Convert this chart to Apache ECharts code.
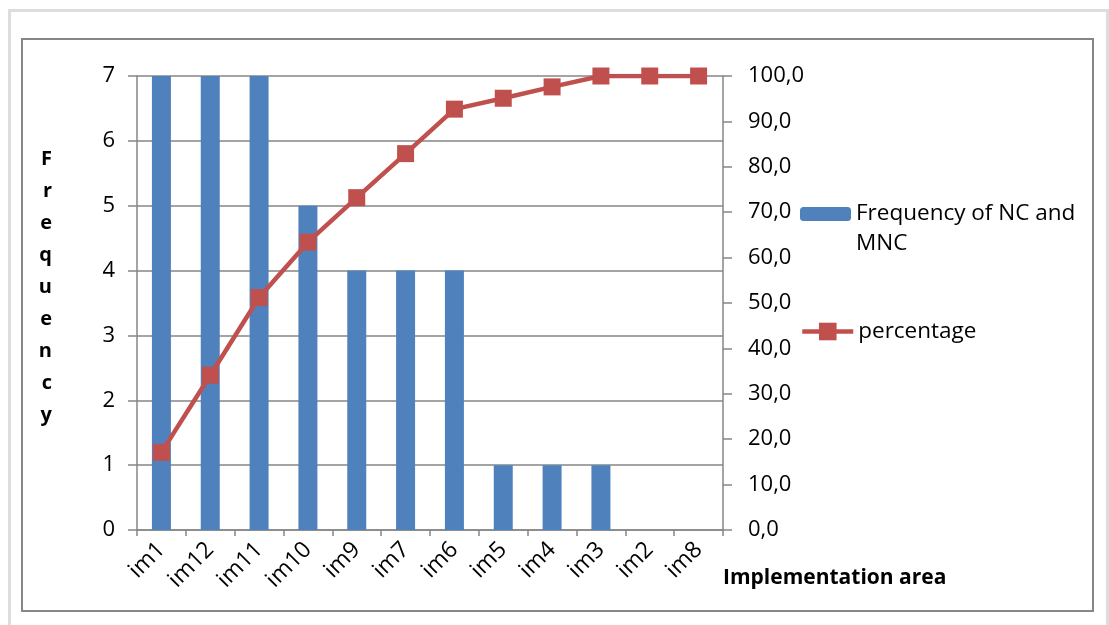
<!DOCTYPE html>
<html>
<head>
<meta charset="utf-8">
<script src="https://cdn.jsdelivr.net/npm/echarts@6/dist/echarts.min.js"></script>
<style>
html,body{margin:0;padding:0;background:#fff;}
#main{width:1109px;height:625px;}
</style>
</head>
<body>
<div id="main"></div>
<script>
const categories = ['im1','im12','im11','im10','im9','im7','im6','im5','im4','im3','im2','im8'];
const frequency = [7,7,7,5,4,4,4,1,1,1,0,0];
const percentage = [17.1,34.1,51.2,63.4,73.2,82.9,92.7,95.1,97.6,100,100,100];
const barName = 'Frequency of NC and MNC';
const lineName = 'percentage';
const yAxisTitle = 'Frequency';
const xAxisTitle = 'Implementation area';

const FONT = '"Open Sans", sans-serif';
const AXIS_COLOR = '#868686';

const chart = echarts.init(document.getElementById('main'), null, {renderer:'canvas'});
chart.setOption({
  animation: false,
  backgroundColor: '#ffffff',
  textStyle: {fontFamily: FONT},
  graphic: [
    {type:'rect', shape:{x:9.5,y:10.5,width:1098,height:630}, style:{fill:'none', stroke:'#dddddd', lineWidth:3}, silent:true},
    {type:'rect', shape:{x:22,y:39,width:1071,height:572}, style:{fill:'none', stroke:AXIS_COLOR, lineWidth:2}, silent:true}
  ],
  grid: {left:137, right:386, top:76, bottom:95, containLabel:false},
  legend: [
    {
      data:[barName], orient:'vertical', left:800, top:169, padding:0,
      itemWidth:51, itemHeight:14,
      formatter: function(){ return ' \nFrequency of NC and\nMNC'; },
      textStyle:{fontFamily:FONT, fontSize:22.5, color:'#000', lineHeight:30}
    },
    {
      data:[lineName], orient:'vertical', left:800, top:320, padding:0,
      itemWidth:51, itemHeight:22,
      lineStyle:{width:4.5},
      textStyle:{fontFamily:FONT, fontSize:22.5, color:'#000'}
    }
  ],
  xAxis: {
    type:'category', data:categories,
    name: xAxisTitle, nameLocation:'end', nameGap:0,
    nameTextStyle:{fontFamily:FONT, fontSize:21, fontWeight:'bold', color:'#000', verticalAlign:'top', align:'left', padding:[38,0,0,0]},
    axisLine:{lineStyle:{color:AXIS_COLOR, width:1.5}},
    axisTick:{show:true, length:6, lineStyle:{color:AXIS_COLOR, width:1.5}},
    axisLabel:{rotate:45, interval:0, fontSize:23, color:'#000', margin:16, fontFamily:FONT},
    splitLine:{show:false}
  },
  yAxis: [
    {
      type:'value', min:0, max:7, interval:1,
      name: yAxisTitle.split('').join('\n') + '\n ', nameLocation:'middle', nameRotate:0, nameGap:85,
      nameTextStyle:{fontFamily:FONT, fontSize:20, fontWeight:'bold', color:'#000', lineHeight:32},
      axisLine:{show:true, lineStyle:{color:AXIS_COLOR, width:1.5}},
      axisTick:{show:true, length:9, lineStyle:{color:AXIS_COLOR, width:1.5}},
      axisLabel:{fontSize:22, color:'#000', margin:22, fontFamily:FONT},
      splitLine:{show:true, lineStyle:{color:AXIS_COLOR, width:1.5}}
    },
    {
      type:'value', min:0, max:100, interval:10, position:'right',
      axisLine:{show:true, lineStyle:{color:AXIS_COLOR, width:1.5}},
      axisTick:{show:true, length:9, lineStyle:{color:AXIS_COLOR, width:1.5}},
      axisLabel:{fontSize:22, color:'#000', margin:25, fontFamily:FONT,
        formatter:function(v){ return v.toFixed(1).replace('.', ','); }},
      splitLine:{show:false}
    }
  ],
  series: [
    {
      name: barName, type:'bar', data:frequency, barWidth:19, yAxisIndex:0,
      itemStyle:{color:'#4F81BD'}
    },
    {
      name: lineName, type:'line', data:percentage, yAxisIndex:1,
      symbol:'rect', symbolSize:17,
      itemStyle:{color:'#C0504D'},
      lineStyle:{color:'#C0504D', width:4.5}
    }
  ]
});
</script>
</body>
</html>
